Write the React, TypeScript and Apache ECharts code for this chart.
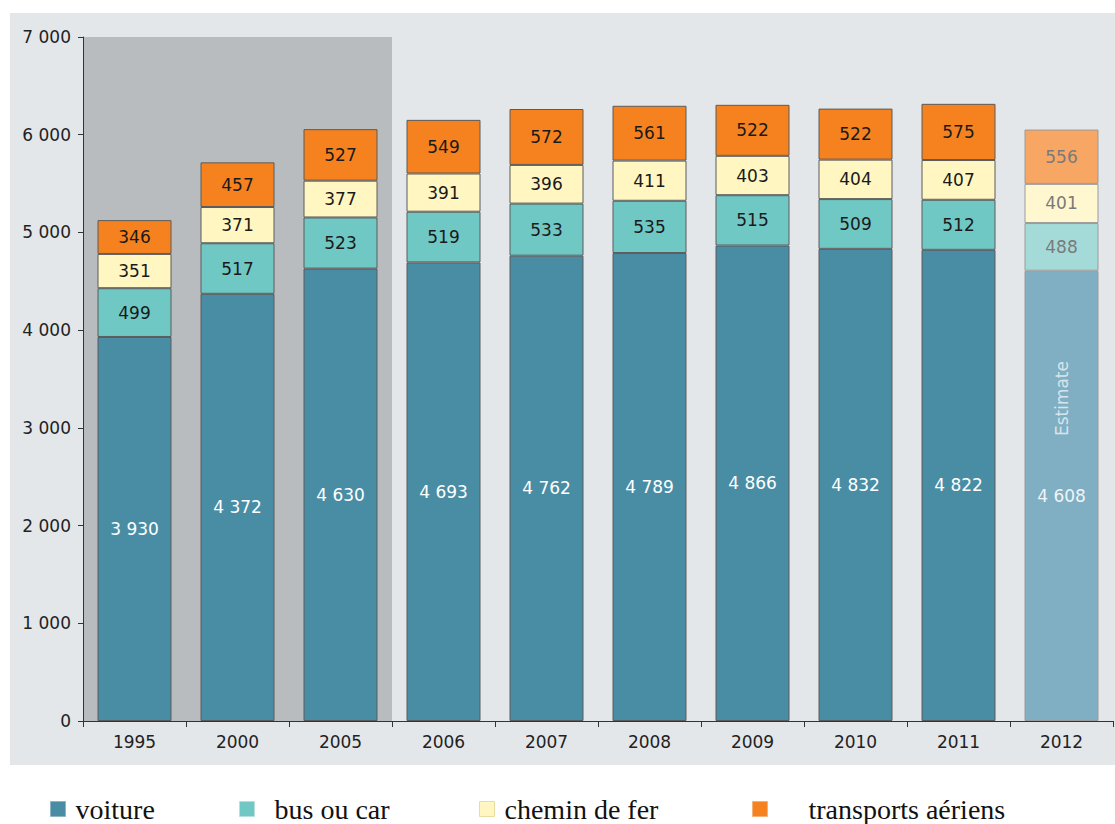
import React, { useEffect, useRef } from "react";
import * as echarts from "echarts";

const categories = ["1995", "2000", "2005", "2006", "2007", "2008", "2009", "2010", "2011", "2012"];
const voiture = [3930, 4372, 4630, 4693, 4762, 4789, 4866, 4832, 4822, 4608];
const busOuCar = [499, 517, 523, 519, 533, 535, 515, 509, 512, 488];
const cheminDeFer = [351, 371, 377, 391, 396, 411, 403, 404, 407, 401];
const transportsAeriens = [346, 457, 527, 549, 572, 561, 522, 522, 575, 556];
const estimateCategory = "2012";
const estimateLabel = "Estimate";
const estimateLabelValue = 3300;
const shadedCount = 3;
const yMin = 0;
const yMax = 7000;
const yInterval = 1000;

const fmt = (v: number) => String(v).replace(/\B(?=(\d{3})+(?!\d))/g, " ");

export default function App() {
  const ref = useRef<HTMLDivElement>(null);
  useEffect(() => {
    if (!ref.current) return;
    const chart = echarts.init(ref.current, undefined, { renderer: "svg" });
    const estIdx = categories.indexOf(estimateCategory);

    const mk = (
      name: string,
      values: number[],
      color: string,
      lightColor: string,
      labelColor: string,
      lightLabelColor: string
    ) => ({
      name,
      type: "bar",
      stack: "total",
      barWidth: 74,
      itemStyle: { color, borderColor: "#5b5b5b", borderWidth: 1 },
      label: {
        show: true,
        position: "inside",
        color: labelColor,
        fontFamily: "DejaVu Sans",
        fontSize: 17,
        formatter: (p: any) => fmt(p.value),
      },
      data: values.map((v, i) =>
        i === estIdx
          ? {
              value: v,
              itemStyle: { color: lightColor, borderColor: "#9a9a9a" },
              label: { color: lightLabelColor },
            }
          : v
      ),
    });

    const legendText = { fontFamily: "Liberation Serif", fontSize: 28, lineHeight: 28, color: "#111" };
    const legendBase = {
      orient: "horizontal",
      top: 795,
      padding: 0,
      icon: "rect",
      itemWidth: 15,
      itemHeight: 15,
      selectedMode: false,
    };

    const bg = {
      id: "bg",
      type: "rect",
      shape: { x: 10, y: 13, width: 1105, height: 752 },
      style: { fill: "#e4e7ea" },
      z: -10,
      silent: true,
    };

    chart.setOption({
      animation: false,
      graphic: [bg],
      grid: { left: 83, right: 2, top: 37, bottom: 103, containLabel: false },
      legend: [
        {
          ...legendBase,
          left: 50,
          data: ["voiture"],
          itemStyle: { borderColor: "#8fb5c4", borderWidth: 1 },
          textStyle: { ...legendText, padding: [0, 0, 0, 5] },
        },
        {
          ...legendBase,
          left: 239,
          data: ["bus ou car"],
          itemStyle: { borderColor: "#b8dedd", borderWidth: 1 },
          textStyle: { ...legendText, padding: [0, 0, 0, 15] },
        },
        {
          ...legendBase,
          left: 479,
          data: ["chemin de fer"],
          itemStyle: { borderColor: "#e8dca0", borderWidth: 1 },
          textStyle: { ...legendText, padding: [0, 0, 0, 5] },
        },
        {
          ...legendBase,
          left: 752,
          data: ["transports aériens"],
          itemStyle: { borderColor: "#f3b27a", borderWidth: 1 },
          textStyle: { ...legendText, padding: [0, 0, 0, 36] },
        },
      ],
      xAxis: {
        type: "category",
        data: categories,
        boundaryGap: true,
        axisLine: { show: true, lineStyle: { color: "#333", width: 1 } },
        axisTick: { show: true, length: 6, lineStyle: { color: "#333" } },
        axisLabel: { color: "#222", fontFamily: "DejaVu Sans", fontSize: 17, margin: 12 },
        splitLine: { show: false },
      },
      yAxis: {
        type: "value",
        min: yMin,
        max: yMax,
        interval: yInterval,
        axisLine: { show: true, lineStyle: { color: "#333", width: 1 } },
        axisTick: { show: true, length: 5, lineStyle: { color: "#333" } },
        axisLabel: {
          color: "#222",
          fontFamily: "DejaVu Sans",
          fontSize: 17,
          margin: 12,
          formatter: (v: number) => fmt(v),
        },
        splitLine: { show: false },
      },
      series: [
        mk("voiture", voiture, "#498da5", "#80afc3", "#ffffff", "#eef4f7"),
        mk("bus ou car", busOuCar, "#70c8c4", "#a4dbd9", "#1a1a1a", "#7a7a7a"),
        mk("chemin de fer", cheminDeFer, "#fff6c1", "#fff7cf", "#1a1a1a", "#7a7a7a"),
        mk("transports aériens", transportsAeriens, "#f5821f", "#f8a663", "#1a1a1a", "#7a7a7a"),
        {
          name: "estimate",
          type: "scatter",
          symbolSize: 0,
          silent: true,
          label: {
            show: true,
            position: "inside",
            rotate: 90,
            color: "#eef4f7",
            fontFamily: "DejaVu Sans",
            fontSize: 17,
            formatter: estimateLabel,
          },
          data: [[estimateCategory, estimateLabelValue]],
          z: 10,
        },
      ],
    });

    // Shaded band behind the first categories, positioned via the axes' own scales
    const c0 = chart.convertToPixel({ xAxisIndex: 0 }, categories[0]) as number;
    const c1 = chart.convertToPixel({ xAxisIndex: 0 }, categories[1]) as number;
    const cLast = chart.convertToPixel({ xAxisIndex: 0 }, categories[shadedCount - 1]) as number;
    const band = c1 - c0;
    const yTop = chart.convertToPixel({ yAxisIndex: 0 }, yMax) as number;
    const yBot = chart.convertToPixel({ yAxisIndex: 0 }, yMin) as number;
    chart.setOption({
      graphic: [
        bg,
        {
          id: "shade",
          type: "rect",
          shape: { x: c0 - band / 2, y: yTop, width: cLast - c0 + band, height: yBot - yTop },
          style: { fill: "#b9bcbf" },
          z: -5,
          silent: true,
        },
      ],
    });

    return () => chart.dispose();
  }, []);
  return (
    <div
      ref={ref}
      style={{ position: "fixed", left: 0, top: 0, width: 1115, height: 824, background: "#ffffff" }}
    />
  );
}
